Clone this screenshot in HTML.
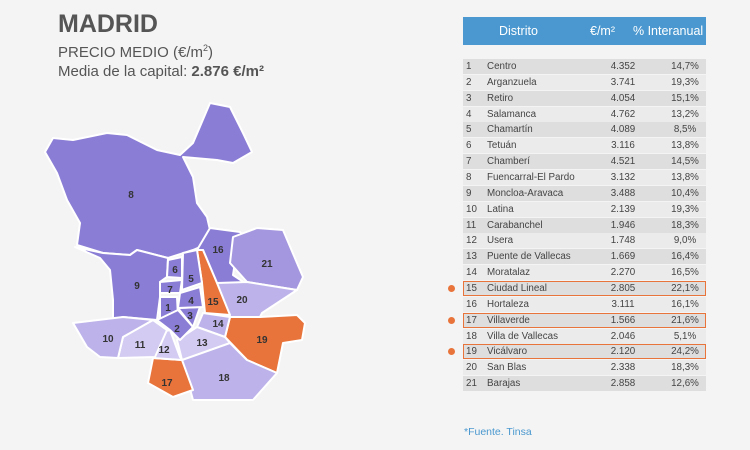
<!DOCTYPE html>
<html><head><meta charset="utf-8"><style>
body{margin:0;width:750px;height:450px;background:#f4f4f4;font-family:"Liberation Sans",sans-serif;position:relative;overflow:hidden;color:#555}
.t{position:absolute;white-space:nowrap}
.r{position:absolute;left:463px;width:243px;height:15px;font-size:9.8px;color:#444;line-height:16px}
.r span{position:absolute}
.r span:nth-child(1){left:3px}
.r span:nth-child(2){left:24px}
.r span:nth-child(3){left:125px;width:70px;text-align:center}
.r span:nth-child(4){left:187px;width:70px;text-align:center}
.o{background:#dedede}.e{background:#ebebeb}
.h{outline:1px solid #e8743b;outline-offset:-1px;z-index:2}
.dot{position:absolute;left:448px;width:7px;height:7px;border-radius:50%;background:#e8743b}
</style></head><body>
<div class="t" style="left:58px;top:10px;font-size:25px;font-weight:bold;color:#555">MADRID</div>
<div class="t" style="left:58px;top:43px;font-size:15px">PRECIO MEDIO (€/m<sup style="font-size:9px">2</sup>)</div>
<div class="t" style="left:58px;top:63px;font-size:15px">Media de la capital: <b>2.876 €/m²</b></div>
<div class="t" style="left:463px;top:17px;width:243px;height:28px;background:#4a98cf;color:#fff;font-size:12.5px">
<span class="t" style="left:36px;top:7px">Distrito</span><span class="t" style="left:127px;top:7px">€/m²</span><span class="t" style="left:170px;top:7px">% Interanual</span></div>
<div class="r o" style="top:59px"><span>1</span><span>Centro</span><span>4.352</span><span>14,7%</span></div>
<div class="r e" style="top:75px"><span>2</span><span>Arganzuela</span><span>3.741</span><span>19,3%</span></div>
<div class="r o" style="top:91px"><span>3</span><span>Retiro</span><span>4.054</span><span>15,1%</span></div>
<div class="r e" style="top:107px"><span>4</span><span>Salamanca</span><span>4.762</span><span>13,2%</span></div>
<div class="r o" style="top:122px"><span>5</span><span>Chamartín</span><span>4.089</span><span>8,5%</span></div>
<div class="r e" style="top:138px"><span>6</span><span>Tetuán</span><span>3.116</span><span>13,8%</span></div>
<div class="r o" style="top:154px"><span>7</span><span>Chamberí</span><span>4.521</span><span>14,5%</span></div>
<div class="r e" style="top:170px"><span>8</span><span>Fuencarral-El Pardo</span><span>3.132</span><span>13,8%</span></div>
<div class="r o" style="top:186px"><span>9</span><span>Moncloa-Aravaca</span><span>3.488</span><span>10,4%</span></div>
<div class="r e" style="top:202px"><span>10</span><span>Latina</span><span>2.139</span><span>19,3%</span></div>
<div class="r o" style="top:218px"><span>11</span><span>Carabanchel</span><span>1.946</span><span>18,3%</span></div>
<div class="r e" style="top:233px"><span>12</span><span>Usera</span><span>1.748</span><span>9,0%</span></div>
<div class="r o" style="top:249px"><span>13</span><span>Puente de Vallecas</span><span>1.669</span><span>16,4%</span></div>
<div class="r e" style="top:265px"><span>14</span><span>Moratalaz</span><span>2.270</span><span>16,5%</span></div>
<div class="r o h" style="top:281px"><span>15</span><span>Ciudad Lineal</span><span>2.805</span><span>22,1%</span></div>
<div class="r e" style="top:297px"><span>16</span><span>Hortaleza</span><span>3.111</span><span>16,1%</span></div>
<div class="r o h" style="top:313px"><span>17</span><span>Villaverde</span><span>1.566</span><span>21,6%</span></div>
<div class="r e" style="top:329px"><span>18</span><span>Villa de Vallecas</span><span>2.046</span><span>5,1%</span></div>
<div class="r o h" style="top:344px"><span>19</span><span>Vicálvaro</span><span>2.120</span><span>24,2%</span></div>
<div class="r e" style="top:360px"><span>20</span><span>San Blas</span><span>2.338</span><span>18,3%</span></div>
<div class="r o" style="top:376px"><span>21</span><span>Barajas</span><span>2.858</span><span>12,6%</span></div>
<div class="dot" style="top:285px"></div>
<div class="dot" style="top:317px"></div>
<div class="dot" style="top:348px"></div>
<div class="t" style="left:464px;top:426px;font-size:10.5px;color:#4a98cf">*Fuente. Tinsa</div>
<svg style="position:absolute;left:0;top:0" width="450" height="450" font-family="Liberation Sans" font-weight="bold" font-size="10" fill="#333" text-anchor="middle">
<g stroke="#fff" stroke-width="2" stroke-linejoin="round">
<polygon fill="#8a7dd5" points="45,152 53,138 73,140 107,133 127,135 157,150 180,155 193,143 210,103 230,107 243,133 252,152 233,163 217,160 183,157 193,177 197,203 207,217 210,230 200,247 193,250 168,258 137,250 130,255 103,253 77,245 80,223 67,200 57,173"/>
<polygon fill="#8a7dd5" points="75,247 103,253 130,255 137,250 168,258 167,277 160,282 160,297 157,320 123,317 113,320 113,300 110,270 100,258"/>
<polygon fill="#8a7dd5" points="197,250 210,228 240,232 252,245 235,262 233,275 245,283 217,283 203,250"/>
<polygon fill="#a597df" points="233,237 257,228 283,230 297,263 303,277 297,290 247,282 230,263"/>
<polygon fill="#bdb3ea" points="217,283 247,282 297,290 262,313 260,317 230,317"/>
<polygon fill="#e8743b" points="197,250 203,250 217,283 230,315 205,313 202,283"/>
<polygon fill="#e8743b" points="230,317 260,317 297,315 305,323 302,340 283,343 277,373 247,360 225,337"/>
<polygon fill="#bdb3ea" points="203,313 230,317 225,337 197,327"/>
<polygon fill="#d3cbf1" points="177,340 197,327 225,337 230,343 207,357 182,360"/>
<polygon fill="#bdb3ea" points="182,360 230,343 247,360 277,373 253,400 193,400"/>
<polygon fill="#e8743b" points="153,358 182,360 193,390 173,397 148,383"/>
<polygon fill="#d3cbf1" points="157,333 170,330 180,357 182,360 153,358"/>
<polygon fill="#d3cbf1" points="123,337 153,320 167,330 155,357 118,358"/>
<polygon fill="#bdb3ea" points="73,323 123,317 153,320 123,337 118,358 100,357 87,347"/>
<polygon fill="#8a7dd5" points="160,297 177,297 178,317 160,320"/>
<polygon fill="#8a7dd5" points="157,320 178,310 193,327 180,340 170,330"/>
<polygon fill="#8a7dd5" points="178,308 200,307 193,327"/>
<polygon fill="#8a7dd5" points="180,293 200,287 203,307 178,308"/>
<polygon fill="#8a7dd5" points="183,253 197,250 202,283 182,290"/>
<polygon fill="#8a7dd5" points="168,260 182,257 182,278 167,277"/>
<polygon fill="#8a7dd5" points="160,282 182,280 180,293 160,293"/>
</g>
<text x="131" y="198">8</text><text x="137" y="289">9</text><text x="218" y="253">16</text><text x="267" y="267">21</text>
<text x="242" y="303">20</text><text x="213" y="305">15</text><text x="262" y="343">19</text><text x="218" y="327">14</text>
<text x="202" y="346">13</text><text x="224" y="381">18</text><text x="167" y="386">17</text><text x="164" y="353">12</text>
<text x="140" y="348">11</text><text x="108" y="342">10</text><text x="168" y="311">1</text><text x="177" y="332">2</text>
<text x="190" y="319">3</text><text x="191" y="304">4</text><text x="191" y="282">5</text><text x="175" y="273">6</text><text x="170" y="293">7</text>
</svg>
</body></html>
